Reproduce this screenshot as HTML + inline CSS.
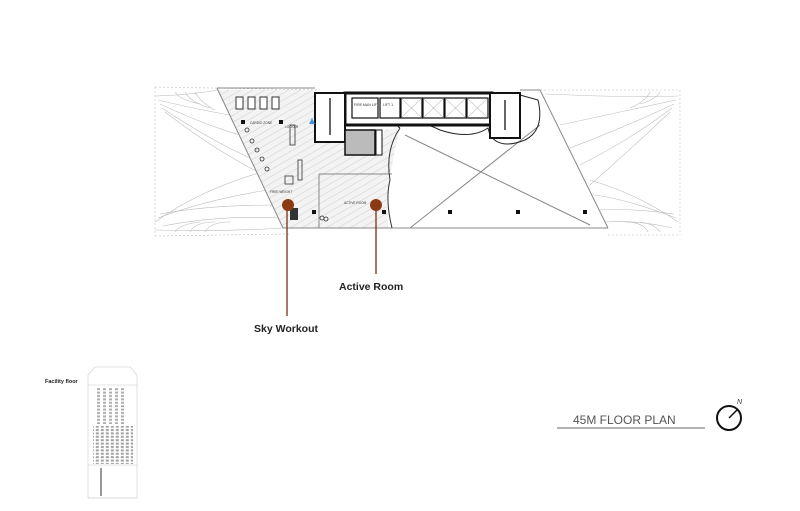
<!DOCTYPE html>
<html><head><style>
body{margin:0;background:#fff;width:800px;height:506px;overflow:hidden;font-family:"Liberation Sans",sans-serif}
</style></head><body>
<svg width="800" height="506" viewBox="0 0 800 506" xmlns="http://www.w3.org/2000/svg">
<defs>
<pattern id="h" width="6" height="6" patternUnits="userSpaceOnUse" patternTransform="rotate(60)">
<line x1="0" y1="0" x2="0" y2="6" stroke="#d4d4d4" stroke-width="1.2"/></pattern>
<pattern id="w" width="5" height="3.4" patternUnits="userSpaceOnUse">
<rect x="0.8" y="0.6" width="3" height="2" fill="#888"/></pattern>
<pattern id="w2" width="6" height="3.4" patternUnits="userSpaceOnUse">
<rect x="1" y="0.6" width="3" height="2" fill="#999"/></pattern>
</defs>
<!-- wings -->
<g fill="none" stroke="#bdbdbd" stroke-width="0.6">
<line x1="155" y1="87" x2="320" y2="90" stroke-dasharray="2,2"/>
<line x1="155" y1="236" x2="290" y2="234" stroke-dasharray="2,2"/>
<line x1="155" y1="87" x2="155" y2="236" stroke-dasharray="2,2"/>
<path d="M155 96 Q190 95 218 90"/><path d="M158 100 Q200 110 230 115"/><path d="M160 104 Q205 125 240 135"/>
<path d="M162 108 Q210 140 250 158"/><path d="M165 112 Q215 150 258 172"/>
<path d="M155 222 Q200 190 262 172"/><path d="M158 218 Q205 200 268 190"/><path d="M160 214 Q210 205 275 205"/>
<path d="M163 226 Q220 215 280 218"/><path d="M155 230 Q220 232 283 228"/>
<path d="M175 92 Q180 100 200 104"/><path d="M185 92 Q190 102 210 108"/><path d="M195 92 Q200 102 215 110"/>
<path d="M175 232 Q180 224 200 222"/><path d="M190 232 Q195 222 215 222"/><path d="M205 232 Q210 222 230 222"/>
<line x1="540" y1="90" x2="680" y2="90" stroke-dasharray="2,2"/>
<line x1="608" y1="235" x2="680" y2="235" stroke-dasharray="2,2"/>
<line x1="680" y1="90" x2="680" y2="235" stroke-dasharray="2,2"/>
<path d="M678 96 Q640 98 545 94"/><path d="M676 100 Q630 110 560 125"/><path d="M674 104 Q630 125 570 148"/>
<path d="M672 108 Q630 140 580 165"/><path d="M670 112 Q630 150 590 185"/>
<path d="M678 222 Q640 195 590 180"/><path d="M676 218 Q630 200 595 195"/><path d="M674 214 Q630 208 600 210"/>
<path d="M672 228 Q640 220 605 222"/>
<path d="M660 92 Q655 100 640 104"/><path d="M650 92 Q645 102 630 108"/>
<path d="M660 232 Q655 224 640 222"/><path d="M648 232 Q643 222 625 222"/>
</g>
<!-- hatched floor -->
<path d="M217 90 L315 90 L315 142 L345 142 L345 155 L375 155 L385 130 L400 128 L395 150 L390 175 L387 200 L388 228 L283 228 Z" fill="#f3f3f3" stroke="none"/>
<path d="M217 90 L315 90 L315 142 L345 142 L345 155 L375 155 L385 130 L400 128 L395 150 L390 175 L387 200 L388 228 L283 228 Z" fill="url(#h)" stroke="none"/>
<!-- main outline -->
<g fill="none" stroke="#888" stroke-width="1">
<line x1="217" y1="88" x2="283" y2="228"/>
<line x1="283" y1="228" x2="608" y2="228"/>
<line x1="540" y1="90" x2="608" y2="228"/>
<line x1="217" y1="88" x2="315" y2="88"/>
<line x1="520" y1="90" x2="540" y2="90"/>
<line x1="410" y1="228" x2="540" y2="125"/>
<line x1="405" y1="135" x2="590" y2="225"/>
<line x1="319" y1="174" x2="392" y2="174"/>
<line x1="319" y1="174" x2="319" y2="228"/>
</g>
<path d="M400 128 Q395 125 402 122 Q420 120 440 130 Q470 140 488 128 L490 135 Q500 150 525 140 Q545 130 538 100 L520 95" fill="none" stroke="#222" stroke-width="1"/>
<path d="M400 128 Q385 150 390 180 Q385 200 392 228" fill="none" stroke="#333" stroke-width="1"/>
<!-- core -->
<rect x="345" y="93" width="147" height="32" fill="#fff" stroke="#111" stroke-width="3"/>
<g fill="#fff" stroke="#111" stroke-width="1.2">
<rect x="352" y="98" width="26" height="20"/><rect x="380" y="98" width="20" height="20"/>
<rect x="401" y="98" width="21" height="20"/><rect x="423" y="98" width="21" height="20"/>
<rect x="445" y="98" width="21" height="20"/><rect x="467" y="98" width="21" height="20"/>
</g>
<g stroke="#999" stroke-width="0.5">
<line x1="401" y1="98" x2="422" y2="118"/><line x1="422" y1="98" x2="401" y2="118"/>
<line x1="423" y1="98" x2="444" y2="118"/><line x1="444" y1="98" x2="423" y2="118"/>
<line x1="445" y1="98" x2="466" y2="118"/><line x1="466" y1="98" x2="445" y2="118"/>
<line x1="467" y1="98" x2="488" y2="118"/><line x1="488" y1="98" x2="467" y2="118"/>
</g>
<text x="354" y="106" font-size="3.5" fill="#333">FIRE MAN LIFT</text>
<text x="383" y="106" font-size="3.5" fill="#333">LIFT 1</text>
<rect x="315" y="93" width="30" height="49" fill="#fff" stroke="#111" stroke-width="2"/>
<line x1="330" y1="98" x2="330" y2="135" stroke="#666" stroke-width="2"/>
<rect x="345" y="130" width="30" height="25" fill="#bbb" stroke="#111" stroke-width="1.5"/>
<rect x="376" y="130" width="6" height="25" fill="#fff" stroke="#111" stroke-width="1"/>
<rect x="490" y="93" width="30" height="45" fill="#fff" stroke="#111" stroke-width="2"/>
<line x1="505" y1="100" x2="505" y2="130" stroke="#666" stroke-width="2"/>
<!-- equipment -->
<g fill="#fff" stroke="#333" stroke-width="1">
<rect x="236" y="97" width="7" height="12"/><rect x="248" y="97" width="7" height="12"/>
<rect x="260" y="97" width="7" height="12"/><rect x="272" y="97" width="7" height="12"/>
</g>
<rect x="241" y="120" width="4" height="4" fill="#111"/><rect x="279" y="120" width="4" height="4" fill="#111"/>
<text x="250" y="124" font-size="3.2" fill="#333">CARDIO ZONE</text>
<text x="285" y="128" font-size="3.2" fill="#333">LOCKER</text>
<path d="M312 118 L309 124 L315 124 Z" fill="#4a90d9"/>
<g fill="none" stroke="#333" stroke-width="0.8">
<circle cx="247" cy="130" r="2"/><circle cx="252" cy="141" r="2"/><circle cx="257" cy="150" r="2"/>
<circle cx="262" cy="159" r="2"/><circle cx="267" cy="169" r="2"/>
<rect x="290" y="125" width="5" height="20"/><rect x="298" y="160" width="4" height="20"/>
<rect x="285" y="176" width="8" height="8"/>
<circle cx="322" cy="218" r="2"/><circle cx="326" cy="219" r="2"/>
</g>
<text x="270" y="193" font-size="3.2" fill="#333">FREE WEIGHT</text>
<text x="344" y="204" font-size="3.2" fill="#333">ACTIVE ROOM</text>
<rect x="290" y="208" width="8" height="12" fill="#333"/>
<g fill="#111">
<rect x="312" y="210" width="4" height="4"/><rect x="382" y="210" width="4" height="4"/>
<rect x="448" y="210" width="4" height="4"/><rect x="516" y="210" width="4" height="4"/>
<rect x="583" y="210" width="4" height="4"/>
</g>
<!-- callouts -->
<line x1="287" y1="205" x2="287" y2="316" stroke="#7a3010" stroke-width="1.3"/>
<line x1="376" y1="205" x2="376" y2="274" stroke="#7a3010" stroke-width="1.3"/>
<circle cx="288" cy="205" r="6" fill="#8b3a14"/>
<circle cx="376" cy="205" r="6" fill="#8b3a14"/>
<text x="339" y="290" font-size="10.5" font-weight="bold" fill="#222">Active Room</text>
<text x="254" y="332" font-size="10.5" font-weight="bold" fill="#222">Sky Workout</text>
<!-- title -->
<text x="573" y="424" font-size="12" fill="#555">45M FLOOR PLAN</text>
<line x1="557" y1="428" x2="705" y2="428" stroke="#666" stroke-width="1"/>
<circle cx="729" cy="418" r="12" fill="none" stroke="#111" stroke-width="2"/>
<line x1="729" y1="418" x2="737" y2="410" stroke="#111" stroke-width="1.5"/>
<text x="737" y="404" font-size="7" font-style="italic" fill="#333">N</text>
<!-- building thumb -->
<text x="45" y="383" font-size="5.5" font-weight="bold" fill="#222">Facility floor</text>
<g stroke="#ccc" fill="none" stroke-width="0.6">
<path d="M88 375 L95 367 L130 367 L137 375 L137 498 L88 498 Z"/>
<line x1="88" y1="385" x2="137" y2="385"/>
<line x1="88" y1="465" x2="137" y2="465"/>
<line x1="88" y1="498" x2="137" y2="498"/>
</g>
<rect x="97" y="388" width="30" height="36" fill="url(#w2)" opacity="0.8"/>
<rect x="93" y="426" width="40" height="38" fill="url(#w)" opacity="0.8"/>
<rect x="100" y="468" width="2" height="28" fill="#999"/>
</svg>
</body></html>
